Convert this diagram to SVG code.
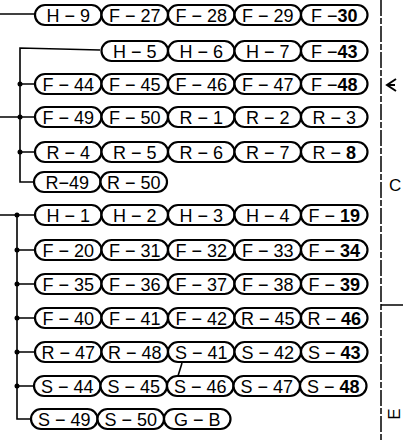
<svg xmlns="http://www.w3.org/2000/svg" width="403" height="442" viewBox="0 0 403 442">
<style>
.p rect{fill:#fff;stroke:#000;stroke-width:2.2}
.p text{font-family:"Liberation Sans",Arial,sans-serif;font-size:18px;text-anchor:middle;fill:#000}
.b{font-weight:bold}
.c{fill:none;stroke:#000;stroke-width:1.6}
.d{fill:#000}
.m{font-family:"Liberation Sans",Arial,sans-serif;font-size:17px;fill:#000}
</style>
<rect width="403" height="442" fill="#fff"/>
<g id="connectors">
<path class="c" d="M0 14H35"/>
<path class="c" d="M100 50L20 48V182H34"/>
<path class="c" d="M20 84H35M0 117H35M20 152H35"/>
<circle class="d" cx="20" cy="84" r="2.5"/><circle class="d" cx="20" cy="117" r="2.5"/><circle class="d" cx="20" cy="152" r="2.5"/>
<path class="c" d="M0 215H35M17 215V419H31M17 250H35M17 284H35M17 318H35M17 352H35M17 386H34"/>
<circle class="d" cx="17" cy="215" r="2.5"/><circle class="d" cx="17" cy="250" r="2.5"/><circle class="d" cx="17" cy="284" r="2.5"/><circle class="d" cx="17" cy="318" r="2.5"/><circle class="d" cx="17" cy="352" r="2.5"/><circle class="d" cx="17" cy="386" r="2.5"/>
<path class="c" d="M182 363L178 376"/>
</g>
<g id="border">
<path d="M381 0V442" fill="none" stroke="#000" stroke-width="1.5" stroke-dasharray="16 2 6 2"/>
<path d="M381 305H403" fill="none" stroke="#000" stroke-width="1.5"/>
<path d="M396 79L387 85L396 91M387 85H395" fill="none" stroke="#000" stroke-width="2"/>
<text class="m" x="389" y="191">C</text>
<text class="m" transform="translate(400 414) rotate(-90)" text-anchor="middle" font-size="19">E</text>
</g>
<g id="row1" class="p">
<g id="H-9"><rect x="35" y="5" width="66.5" height="20" rx="10"/><text x="68.2" y="21.5">H − 9</text></g>
<g id="F-27"><rect x="101.5" y="5" width="66.5" height="20" rx="10"/><text x="134.7" y="21.5">F − 27</text></g>
<g id="F-28"><rect x="168" y="5" width="66.5" height="20" rx="10"/><text x="201.2" y="21.5">F − 28</text></g>
<g id="F-29"><rect x="234.5" y="5" width="66.5" height="20" rx="10"/><text x="267.7" y="21.5">F − 29</text></g>
<g id="F-30"><rect x="301" y="5" width="66.5" height="20" rx="10"/><text x="334.2" y="21.5">F −<tspan class="b">30</tspan></text></g>
</g>
<g id="row2" class="p">
<g id="H-5"><rect x="101.5" y="41" width="66.5" height="20" rx="10"/><text x="134.7" y="57.5">H − 5</text></g>
<g id="H-6"><rect x="168" y="41" width="66.5" height="20" rx="10"/><text x="201.2" y="57.5">H − 6</text></g>
<g id="H-7"><rect x="234.5" y="41" width="66.5" height="20" rx="10"/><text x="267.7" y="57.5">H − 7</text></g>
<g id="F-43"><rect x="301" y="41" width="66.5" height="20" rx="10"/><text x="334.2" y="57.5">F −<tspan class="b">43</tspan></text></g>
</g>
<g id="row3" class="p">
<g id="F-44"><rect x="35" y="74" width="66.5" height="20" rx="10"/><text x="68.2" y="90.5">F − 44</text></g>
<g id="F-45"><rect x="101.5" y="74" width="66.5" height="20" rx="10"/><text x="134.7" y="90.5">F − 45</text></g>
<g id="F-46"><rect x="168" y="74" width="66.5" height="20" rx="10"/><text x="201.2" y="90.5">F − 46</text></g>
<g id="F-47"><rect x="234.5" y="74" width="66.5" height="20" rx="10"/><text x="267.7" y="90.5">F − 47</text></g>
<g id="F-48"><rect x="301" y="74" width="66.5" height="20" rx="10"/><text x="334.2" y="90.5">F −<tspan class="b">48</tspan></text></g>
</g>
<g id="row4" class="p">
<g id="F-49"><rect x="35" y="107" width="66.5" height="20" rx="10"/><text x="68.2" y="123.5">F − 49</text></g>
<g id="F-50"><rect x="101.5" y="107" width="66.5" height="20" rx="10"/><text x="134.7" y="123.5">F − 50</text></g>
<g id="R-1"><rect x="168" y="107" width="66.5" height="20" rx="10"/><text x="201.2" y="123.5">R − 1</text></g>
<g id="R-2"><rect x="234.5" y="107" width="66.5" height="20" rx="10"/><text x="267.7" y="123.5">R − 2</text></g>
<g id="R-3"><rect x="301" y="107" width="66.5" height="20" rx="10"/><text x="334.2" y="123.5">R − 3</text></g>
</g>
<g id="row5" class="p">
<g id="R-4"><rect x="35" y="142" width="66.5" height="20" rx="10"/><text x="68.2" y="158.5">R − 4</text></g>
<g id="R-5"><rect x="101.5" y="142" width="66.5" height="20" rx="10"/><text x="134.7" y="158.5">R − 5</text></g>
<g id="R-6"><rect x="168" y="142" width="66.5" height="20" rx="10"/><text x="201.2" y="158.5">R − 6</text></g>
<g id="R-7"><rect x="234.5" y="142" width="66.5" height="20" rx="10"/><text x="267.7" y="158.5">R − 7</text></g>
<g id="R-8"><rect x="301" y="142" width="66.5" height="20" rx="10"/><text x="334.2" y="158.5">R − <tspan class="b">8</tspan></text></g>
</g>
<g id="row6" class="p">
<g id="R-49"><rect x="34" y="172" width="66.5" height="20" rx="10"/><text x="67.2" y="188.5">R−49</text></g>
<g id="R-50"><rect x="100.5" y="172" width="66.5" height="20" rx="10"/><text x="133.7" y="188.5">R − 50</text></g>
</g>
<g id="row7" class="p">
<g id="H-1"><rect x="35" y="205" width="66.5" height="20" rx="10"/><text x="68.2" y="221.5">H − 1</text></g>
<g id="H-2"><rect x="101.5" y="205" width="66.5" height="20" rx="10"/><text x="134.7" y="221.5">H − 2</text></g>
<g id="H-3"><rect x="168" y="205" width="66.5" height="20" rx="10"/><text x="201.2" y="221.5">H − 3</text></g>
<g id="H-4"><rect x="234.5" y="205" width="66.5" height="20" rx="10"/><text x="267.7" y="221.5">H − 4</text></g>
<g id="F-19"><rect x="301" y="205" width="66.5" height="20" rx="10"/><text x="334.2" y="221.5">F − <tspan class="b">19</tspan></text></g>
</g>
<g id="row8" class="p">
<g id="F-20"><rect x="35" y="240" width="66.5" height="20" rx="10"/><text x="68.2" y="256.5">F − 20</text></g>
<g id="F-31"><rect x="101.5" y="240" width="66.5" height="20" rx="10"/><text x="134.7" y="256.5">F − 31</text></g>
<g id="F-32"><rect x="168" y="240" width="66.5" height="20" rx="10"/><text x="201.2" y="256.5">F − 32</text></g>
<g id="F-33"><rect x="234.5" y="240" width="66.5" height="20" rx="10"/><text x="267.7" y="256.5">F − 33</text></g>
<g id="F-34"><rect x="301" y="240" width="66.5" height="20" rx="10"/><text x="334.2" y="256.5">F − <tspan class="b">34</tspan></text></g>
</g>
<g id="row9" class="p">
<g id="F-35"><rect x="35" y="274" width="66.5" height="20" rx="10"/><text x="68.2" y="290.5">F − 35</text></g>
<g id="F-36"><rect x="101.5" y="274" width="66.5" height="20" rx="10"/><text x="134.7" y="290.5">F − 36</text></g>
<g id="F-37"><rect x="168" y="274" width="66.5" height="20" rx="10"/><text x="201.2" y="290.5">F − 37</text></g>
<g id="F-38"><rect x="234.5" y="274" width="66.5" height="20" rx="10"/><text x="267.7" y="290.5">F − 38</text></g>
<g id="F-39"><rect x="301" y="274" width="66.5" height="20" rx="10"/><text x="334.2" y="290.5">F − <tspan class="b">39</tspan></text></g>
</g>
<g id="row10" class="p">
<g id="F-40"><rect x="35" y="308" width="66.5" height="20" rx="10"/><text x="68.2" y="324.5">F − 40</text></g>
<g id="F-41"><rect x="101.5" y="308" width="66.5" height="20" rx="10"/><text x="134.7" y="324.5">F − 41</text></g>
<g id="F-42"><rect x="168" y="308" width="66.5" height="20" rx="10"/><text x="201.2" y="324.5">F − 42</text></g>
<g id="R-45"><rect x="234.5" y="308" width="66.5" height="20" rx="10"/><text x="267.7" y="324.5">R − 45</text></g>
<g id="R-46"><rect x="301" y="308" width="66.5" height="20" rx="10"/><text x="334.2" y="324.5">R − <tspan class="b">46</tspan></text></g>
</g>
<g id="row11" class="p">
<g id="R-47"><rect x="35" y="342" width="66.5" height="20" rx="10"/><text x="68.2" y="358.5">R − 47</text></g>
<g id="R-48"><rect x="101.5" y="342" width="66.5" height="20" rx="10"/><text x="134.7" y="358.5">R − 48</text></g>
<g id="S-41"><rect x="168" y="342" width="66.5" height="20" rx="10"/><text x="201.2" y="358.5">S − 41</text></g>
<g id="S-42"><rect x="234.5" y="342" width="66.5" height="20" rx="10"/><text x="267.7" y="358.5">S − 42</text></g>
<g id="S-43"><rect x="301" y="342" width="66.5" height="20" rx="10"/><text x="334.2" y="358.5">S − <tspan class="b">43</tspan></text></g>
</g>
<g id="row12" class="p">
<g id="S-44"><rect x="34" y="376" width="66.5" height="20" rx="10"/><text x="67.2" y="392.5">S − 44</text></g>
<g id="S-45"><rect x="100.5" y="376" width="66.5" height="20" rx="10"/><text x="133.7" y="392.5">S − 45</text></g>
<g id="S-46"><rect x="167" y="376" width="66.5" height="20" rx="10"/><text x="200.2" y="392.5">S − 46</text></g>
<g id="S-47"><rect x="233.5" y="376" width="66.5" height="20" rx="10"/><text x="266.7" y="392.5">S − 47</text></g>
<g id="S-48"><rect x="300" y="376" width="66.5" height="20" rx="10"/><text x="333.2" y="392.5">S − <tspan class="b">48</tspan></text></g>
</g>
<g id="row13" class="p">
<g id="S-49"><rect x="31" y="409" width="66.5" height="20" rx="10"/><text x="64.2" y="425.5">S − 49</text></g>
<g id="S-50"><rect x="97.5" y="409" width="66.5" height="20" rx="10"/><text x="130.7" y="425.5">S − 50</text></g>
<g id="G-B"><rect x="164" y="409" width="66.5" height="20" rx="10"/><text x="197.2" y="425.5">G − B</text></g>
</g>
</svg>
